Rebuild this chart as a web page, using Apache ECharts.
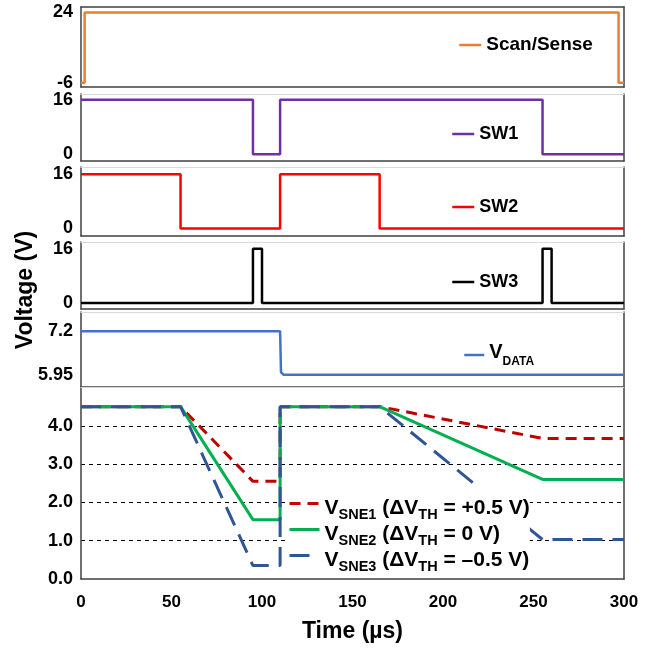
<!DOCTYPE html>
<html>
<head>
<meta charset="utf-8">
<script src="https://cdn.jsdelivr.net/npm/echarts@6/dist/echarts.min.js"></script>
<style>
  html, body { margin: 0; padding: 0; background: #fff; }
  #chart { width: 664px; height: 650px; }
</style>
</head>
<body>
<div id="chart"></div>
<script>
// Time axis ticks (µs)
const timeTicks = [0, 50, 100, 150, 200, 250, 300];

// Drive waveforms: times (µs) and voltages (V)
const scanT = [0, 2, 2, 297, 297, 300];
const scanV = [-6, -6, 24, 24, -6, -6];

const sw1T = [0, 95, 95, 110, 110, 255, 255, 300];
const sw1V = [16, 16, 0, 0, 16, 16, 0, 0];

const sw2T = [0, 55, 55, 110, 110, 165, 165, 300];
const sw2V = [16, 16, 0, 0, 16, 16, 0, 0];

const sw3T = [0, 95, 95, 100, 100, 255, 255, 260, 260, 300];
const sw3V = [0, 0, 16, 16, 0, 0, 16, 16, 0, 0];

const vdataT = [0, 110, 110.5, 112, 300];
const vdataV = [7.2, 7.2, 6.02, 5.95, 5.95];

// Sense-node voltages for three threshold shifts
const sneT = [0, 55, 95, 110, 110, 165, 255, 300];
const sne1V = [4.5, 4.5, 2.55, 2.55, 4.5, 4.5, 3.67, 3.67];
const sne2V = [4.5, 4.5, 1.55, 1.55, 4.5, 4.5, 2.6, 2.6];
const sne3V = [4.5, 4.5, 0.35, 0.35, 4.5, 4.5, 1.03, 1.03];

// Y tick labels per panel
const scanTicks = [-6, 24];
const swTicks = [0, 16];
const vdataTicks = [5.95, 7.2];
const sneTicks = [0, 1, 2, 3, 4];

const FONT = '"Liberation Sans", Arial, Helvetica, sans-serif';
const DARK = '#404040';
const LIGHT = '#d9d9d9';

const zip = (t, v) => t.map((x, i) => [x, v[i]]);

// Panel layout (pixel top / height) and y ranges
const panels = [
  { top: 7,     height: 80,    min: -7.8, max: 26.3, ticks: scanTicks },
  { top: 94,    height: 67,    min: -2.0, max: 17.7, ticks: swTicks },
  { top: 167,   height: 69,    min: -2.2, max: 18.1, ticks: swTicks },
  { top: 242,   height: 67,    min: -1.8, max: 18.0, ticks: swTicks },
  { top: 312,   height: 75,    min: 5.6,  max: 7.75, ticks: vdataTicks },
  { top: 387.5, height: 191.5, min: 0,    max: 5,    ticks: sneTicks }
];
const last = panels.length - 1;

const grid = panels.map(p => ({ left: 81, right: 40, top: p.top, height: p.height }));

const xAxis = [];
const yAxis = [];
panels.forEach((p, i) => {
  xAxis.push({
    type: 'value', gridIndex: i, position: 'bottom', min: 0, max: 300, interval: 50,
    axisLine: { show: true, onZero: false, lineStyle: { color: DARK, width: 1.5 } },
    axisTick: { show: false },
    splitLine: { show: false },
    axisLabel: {
      show: i === last, customValues: timeTicks, margin: 15,
      fontFamily: FONT, fontWeight: 'bold', fontSize: 17, color: '#000'
    },
    name: i === last ? 'Time (µs)' : '',
    nameLocation: 'middle', nameGap: 41,
    nameTextStyle: { fontFamily: FONT, fontWeight: 'bold', fontSize: 23, color: '#000' }
  });
  xAxis.push({
    type: 'value', gridIndex: i, position: 'top', min: 0, max: 300,
    axisLine: { show: true, onZero: false, lineStyle: { color: i === 0 ? DARK : LIGHT, width: i === 0 ? 1.5 : 1.2 } },
    axisTick: { show: false }, axisLabel: { show: false }, splitLine: { show: false }
  });
  const isSne = i === last;
  yAxis.push({
    type: 'value', gridIndex: i, position: 'left', min: p.min, max: p.max,
    interval: isSne ? 1 : undefined,
    axisLine: { show: true, onZero: false, lineStyle: { color: DARK, width: 1.5 } },
    axisTick: { show: false },
    axisLabel: {
      customValues: p.ticks, margin: 8,
      fontFamily: FONT, fontWeight: 'bold', fontSize: 18, color: '#000',
      formatter: isSne ? (v => v.toFixed(1)) : (v => String(v))
    },
    splitLine: isSne ? {
      show: true, showMinLine: false, showMaxLine: false,
      lineStyle: { color: '#000', width: 1, type: [4, 4] }
    } : { show: false }
  });
  yAxis.push({
    type: 'value', gridIndex: i, position: 'right', min: p.min, max: p.max,
    axisLine: { show: true, onZero: false, lineStyle: { color: DARK, width: 1.5 } },
    axisTick: { show: false }, axisLabel: { show: false }, splitLine: { show: false }
  });
});

function lineSeries(name, panel, t, v, color, width, dash) {
  return {
    name, type: 'line', xAxisIndex: panel * 2, yAxisIndex: panel * 2,
    data: zip(t, v), symbol: 'none', animation: false,
    lineStyle: { color, width, type: dash || 'solid' },
    itemStyle: { color }
  };
}

const series = [
  lineSeries('Scan/Sense', 0, scanT, scanV, '#ED7D31', 2.5),
  lineSeries('SW1', 1, sw1T, sw1V, '#7030A0', 2.5),
  lineSeries('SW2', 2, sw2T, sw2V, '#FF0000', 2.5),
  lineSeries('SW3', 3, sw3T, sw3V, '#000000', 2.5),
  lineSeries('VDATA', 4, vdataT, vdataV, '#4472C4', 2.5),
  lineSeries('VSNE1', 5, sneT, sne1V, '#C00000', 3, [11, 7]),
  lineSeries('VSNE2', 5, sneT, sne2V, '#00B050', 3),
  lineSeries('VSNE3', 5, sneT, sne3V, '#2F5597', 3, [20, 10])
];

const plainText = size => ({ fontFamily: FONT, fontWeight: 'bold', fontSize: size, color: '#000', lineHeight: 22 });

// legend keys show only the series stroke, no point marker
const noMarker = { opacity: 0 };
const keyLine = { width: 'inherit', type: 'inherit', color: 'inherit' };

function simpleLegend(name, left, centerY, size) {
  return {
    data: [name], left, top: centerY - 11, padding: 0,
    itemWidth: 22, itemHeight: 10, itemStyle: noMarker, lineStyle: keyLine,
    textStyle: plainText(size), selectedMode: false
  };
}

const sneLabels = {
  VSNE1: '{v|V}{s|SNE1}{v| (ΔV}{s|TH}{v| = +0.5 V)}',
  VSNE2: '{v|V}{s|SNE2}{v| (ΔV}{s|TH}{v| = 0 V)}',
  VSNE3: '{v|V}{s|SNE3}{v| (ΔV}{s|TH}{v| = –0.5 V)}'
};

const legend = [
  simpleLegend('Scan/Sense', 458, 45, 19),
  simpleLegend('SW1', 451, 134, 18),
  simpleLegend('SW2', 451, 207, 18),
  simpleLegend('SW3', 451, 282, 18),
  {
    data: ['VDATA'], left: 463, top: 342, padding: 0, itemWidth: 20, itemHeight: 10,
    itemStyle: noMarker, lineStyle: keyLine, selectedMode: false,
    formatter: () => '{v|V}{s|DATA}',
    textStyle: {
      fontFamily: FONT, fontWeight: 'bold', color: '#000', lineHeight: 22,
      rich: {
        v: { fontFamily: FONT, fontWeight: 'bold', fontSize: 20, color: '#000', lineHeight: 22, padding: [0, 0, 6, 0] },
        s: { fontFamily: FONT, fontWeight: 'bold', fontSize: 12, color: '#000', lineHeight: 22, padding: [14, 0, 0, 0] }
      }
    }
  },
  {
    data: ['VSNE1', 'VSNE2', 'VSNE3'], orient: 'vertical', left: 288, top: 485,
    padding: 0, itemGap: -11, itemWidth: 30, itemHeight: 10, selectedMode: false,
    itemStyle: noMarker, lineStyle: keyLine,
    backgroundColor: '#fff',
    formatter: n => sneLabels[n],
    textStyle: {
      fontFamily: FONT, fontWeight: 'bold', color: '#000', lineHeight: 27,
      rich: {
        v: { fontFamily: FONT, fontWeight: 'bold', fontSize: 21, color: '#000', lineHeight: 27, padding: [9, 0, 0, 0] },
        s: { fontFamily: FONT, fontWeight: 'bold', fontSize: 14.5, color: '#000', lineHeight: 27, padding: [22, 0, 0, 0] }
      }
    }
  }
];

const chart = echarts.init(document.getElementById('chart'), null, { renderer: 'canvas' });
chart.setOption({
  backgroundColor: '#fff',
  animation: false,
  grid, xAxis, yAxis, series, legend,
  graphic: [{
    type: 'text', x: 26, y: 290, rotation: Math.PI / 2,
    style: {
      text: 'Voltage (V)', align: 'center', verticalAlign: 'middle',
      font: 'bold 23px ' + FONT, fill: '#000'
    }
  }]
});
</script>
</body>
</html>
